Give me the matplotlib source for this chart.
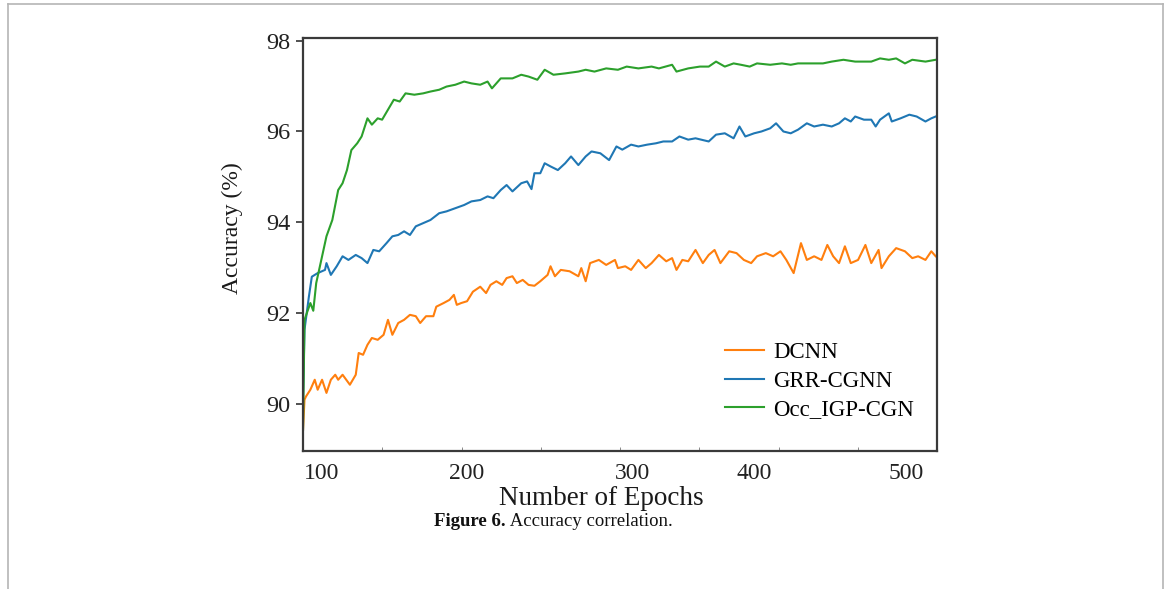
import numpy as np
import matplotlib
matplotlib.use("Agg")
import matplotlib.pyplot as plt
from matplotlib.lines import Line2D

plt.rcParams["font.family"] = ["Liberation Serif", "DejaVu Serif"]

# values (epoch, accuracy %)
dcnn_epochs = [88, 89, 90, 93, 96, 98, 101, 104, 107, 110, 112, 115, 120, 124, 126, 129, 132, 135,
               139, 143, 146, 149, 153, 157, 161, 165, 168, 172, 177, 179, 184, 188, 191, 193, 196,
               200, 204, 209, 213, 216, 220, 224, 227, 231, 234, 238, 242, 246, 250, 255, 257, 260,
               264, 270, 276, 278, 281, 284, 290, 295, 301, 303, 308, 312, 317, 322, 326, 331, 336,
               340, 343, 347, 351, 356, 361, 365, 369, 373, 379, 384, 389, 394, 398, 404, 409, 414,
               418, 423, 428, 432, 437, 442, 446, 450, 454, 458, 462, 467, 472, 476, 481, 483, 488,
               493, 499, 504, 508, 513, 517, 520]
dcnn_acc = [89.43, 90.09, 90.16, 90.31, 90.53, 90.31, 90.53, 90.24, 90.53, 90.64, 90.53, 90.64,
            90.42, 90.64, 91.12, 91.08, 91.30, 91.45, 91.41, 91.52, 91.85, 91.52, 91.78, 91.85,
            91.96, 91.93, 91.78, 91.93, 91.93, 92.14, 92.22, 92.29, 92.40, 92.18, 92.22, 92.26,
            92.47, 92.58, 92.44, 92.62, 92.70, 92.62, 92.77, 92.81, 92.66, 92.73, 92.62, 92.60,
            92.70, 92.84, 93.03, 92.81, 92.95, 92.92, 92.81, 92.99, 92.70, 93.10, 93.17, 93.06,
            93.17, 92.99, 93.03, 92.95, 93.17, 92.99, 93.10, 93.28, 93.14, 93.21, 92.95, 93.17,
            93.14, 93.39, 93.10, 93.28, 93.39, 93.10, 93.36, 93.32, 93.17, 93.10, 93.25, 93.32,
            93.25, 93.36, 93.17, 92.88, 93.54, 93.17, 93.25, 93.17, 93.50, 93.25, 93.10, 93.47,
            93.10, 93.17, 93.50, 93.10, 93.39, 92.99, 93.25, 93.43, 93.36, 93.21, 93.25, 93.17,
            93.36, 93.25]

grr_epochs = [88, 89, 92, 94, 98, 103, 104, 107, 111, 115, 119, 124, 128, 132, 136, 140, 145, 149,
              153, 157, 161, 165, 170, 175, 181, 186, 192, 198, 203, 209, 214, 218, 223, 227, 231,
              237, 241, 244, 246, 250, 253, 257, 262, 267, 271, 276, 281, 285, 291, 297, 302, 306,
              312, 317, 323, 329, 334, 340, 345, 351, 356, 365, 370, 376, 382, 386, 390, 396, 401,
              407, 411, 416, 421, 426, 432, 437, 443, 449, 454, 458, 462, 465, 471, 476, 479, 482,
              488, 490, 496, 502, 507, 513, 517, 520]
grr_acc = [90.16, 91.63, 92.36, 92.80, 92.88, 92.95, 93.10, 92.84, 93.03, 93.25, 93.17, 93.28,
           93.21, 93.10, 93.39, 93.36, 93.54, 93.69, 93.72, 93.80, 93.72, 93.91, 93.98, 94.05,
           94.20, 94.24, 94.31, 94.38, 94.46, 94.49, 94.57, 94.53, 94.71, 94.82, 94.68, 94.86,
           94.90, 94.73, 95.08, 95.08, 95.30, 95.23, 95.15, 95.30, 95.45, 95.26, 95.45, 95.56,
           95.52, 95.37, 95.67, 95.60, 95.71, 95.67, 95.71, 95.74, 95.78, 95.78, 95.89, 95.82,
           95.85, 95.78, 95.93, 95.96, 95.85, 96.11, 95.89, 95.96, 96.00, 96.07, 96.18, 96.00,
           95.96, 96.04, 96.18, 96.11, 96.15, 96.11, 96.18, 96.29, 96.22, 96.33, 96.26, 96.26,
           96.11, 96.26, 96.40, 96.22, 96.29, 96.37, 96.33, 96.22, 96.29, 96.33]

occ_epochs = [88, 89, 93, 95, 97, 100, 104, 108, 112, 115, 118, 121, 125, 128, 132, 135, 139, 142,
              146, 150, 154, 158, 164, 170, 175, 181, 186, 192, 198, 203, 209, 214, 217, 223, 231,
              237, 242, 248, 253, 259, 267, 276, 281, 287, 295, 303, 309, 317, 326, 331, 340, 343,
              351, 359, 365, 370, 376, 382, 387, 393, 398, 407, 415, 421, 426, 435, 443, 449, 457,
              465, 471, 476, 482, 488, 493, 499, 504, 513, 520]
occ_acc = [89.43, 91.85, 92.22, 92.05, 92.66, 93.10, 93.69, 94.05, 94.71, 94.86, 95.15, 95.59,
           95.74, 95.89, 96.29, 96.15, 96.29, 96.26, 96.48, 96.70, 96.66, 96.84, 96.81, 96.84,
           96.88, 96.92, 96.99, 97.03, 97.10, 97.06, 97.03, 97.10, 96.95, 97.17, 97.17, 97.25,
           97.21, 97.14, 97.36, 97.25, 97.28, 97.32, 97.36, 97.32, 97.39, 97.36, 97.43, 97.39,
           97.43, 97.39, 97.47, 97.32, 97.39, 97.43, 97.43, 97.54, 97.43, 97.50, 97.47, 97.43,
           97.50, 97.47, 97.50, 97.47, 97.50, 97.50, 97.50, 97.54, 97.58, 97.54, 97.54, 97.54,
           97.61, 97.58, 97.61, 97.50, 97.58, 97.54, 97.58]

xtick_labels = ["100", "200", "300", "400", "500"]
xtick_pos = [101, 200, 313, 396, 500]
yticks = [90, 92, 94, 96, 98]

fig = plt.figure(figsize=(11.7, 5.89), dpi=100)
ax = fig.add_axes([0.259, 0.2343, 0.542, 0.7012])

ax.plot(dcnn_epochs, dcnn_acc, color="#ff7f0e", lw=1.5, label="DCNN")
ax.plot(grr_epochs, grr_acc, color="#1f77b4", lw=1.5, label="GRR-CGNN")
ax.plot(occ_epochs, occ_acc, color="#2ca02c", lw=1.5, label="Occ_IGP-CGN")

ax.set_xlim(88, 521)
ax.set_ylim(88.96, 98.06)

ax.set_yticks(yticks)
ax.set_xticks(xtick_pos)
ax.set_xticklabels(xtick_labels)
ax.set_xticks(np.linspace(88, 521, 9)[1:-1], minor=True)
ax.tick_params(axis="x", which="major", length=0, pad=9, labelsize=17, labelcolor="#222222")
ax.tick_params(axis="x", which="minor", length=3, direction="in", color="#777777")
ax.tick_params(axis="y", length=5, width=1.2, pad=4, labelsize=17.5, labelcolor="#222222", color="#333333")

for s in ax.spines.values():
    s.set_color("#3a3a3a")
    s.set_linewidth(1.6)

ax.set_xlabel("Number of Epochs", fontsize=19.5, color="#1a1a1a")
ax.xaxis.set_label_coords(0.47, -0.085)
ax.set_ylabel("Accuracy (%)", fontsize=17, color="#1a1a1a")
ax.yaxis.set_label_coords(-0.094, 0.54)

ax.legend(loc="lower left", bbox_to_anchor=(0.665, 0.075), frameon=False, fontsize=16.5,
          handlelength=1.7, handletextpad=0.4, labelspacing=0.32, borderpad=0, borderaxespad=0)

# outer page frame
frame_col = "#b5b5b5"
fig.add_artist(Line2D([0.0068, 0.0068], [0.0, 0.9932], color=frame_col, lw=1.2, transform=fig.transFigure))
fig.add_artist(Line2D([0.0068, 0.994], [0.9932, 0.9932], color=frame_col, lw=1.2, transform=fig.transFigure))
fig.add_artist(Line2D([0.994, 0.994], [0.0, 0.9932], color=frame_col, lw=1.2, transform=fig.transFigure))

# caption
cap = fig.text(434 / 1170, 1 - 522 / 589, "Figure 6.", fontsize=13.5, fontweight="bold",
               ha="left", va="center", color="#111111")
ax.annotate(" Accuracy correlation.", xy=(1, 0.5), xycoords=cap, ha="left", va="center",
            fontsize=13.5, color="#111111", annotation_clip=False)

fig.savefig("out.png", dpi=100)
